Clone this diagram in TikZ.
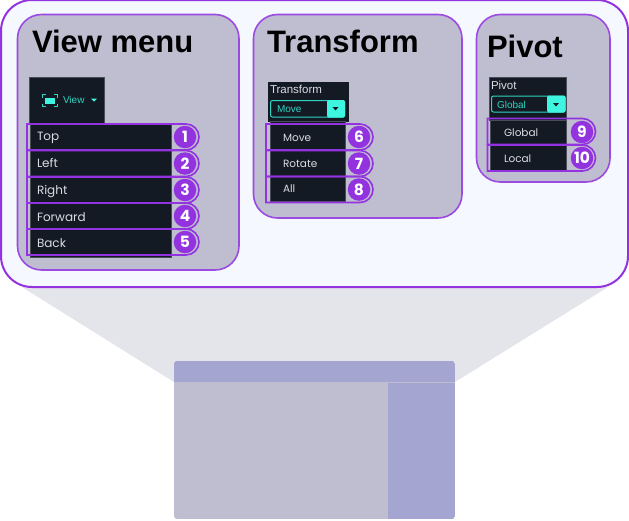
\documentclass[tikz,border=0pt]{standalone}
\usepackage{fontspec}
\setmainfont{Liberation Sans}
\newfontfamily\menufont{Poppins}
\usetikzlibrary{shapes.misc}
\definecolor{ringpurple}{HTML}{9333E0}
\definecolor{panelline}{HTML}{9B4BE2}
\definecolor{panelgrey}{HTML}{BFBDD0}
\definecolor{outerblue}{HTML}{F5F8FF}
\definecolor{conegrey}{HTML}{E4E5EA}
\definecolor{dockblue}{HTML}{A5A5D2}
\definecolor{menudark}{HTML}{141A24}
\definecolor{menuedge}{HTML}{4A4D57}
\definecolor{menutext}{HTML}{DADCE2}
\definecolor{tealtext}{HTML}{2FD4C0}
\definecolor{tealfill}{HTML}{3EF5E0}
\begin{document}
\begin{tikzpicture}[x=1pt, y=-1pt, inner sep=0pt, outer sep=0pt,
    panel/.style={draw=panelline, line width=1.6pt, fill=panelgrey, rounded corners=24pt},
    darkbox/.style={fill=menudark, draw=menuedge, line width=0.6pt},
    heading/.style={anchor=base west, font=\bfseries\fontsize{31}{31}\selectfont, text=black},
    item/.style={anchor=base west, font=\menufont\fontsize{12}{14}\selectfont, text=menutext},
    smallitem/.style={item, font=\menufont\fontsize{10.5}{12}\selectfont},
    caption/.style={anchor=west, font=\fontsize{11.5}{13}\selectfont, text=menutext},
    teal/.style={anchor=west, font=\fontsize{10}{11}\selectfont, text=tealtext},
    ring/.style={draw=ringpurple, line width=1.6pt, rounded rectangle, rounded rectangle west arc=none, minimum height=26pt},
    badge/.style={circle, fill=ringpurple, text=white, minimum size=22.5pt, font=\menufont\bfseries\fontsize{15.5}{15.5}\selectfont}]
    \useasboundingbox (0,0) rectangle (629,520);
    \fill[white] (0,0) rectangle (629,520);

    % cone and small layout
    \fill[conegrey] (22,287) -- (608,287) -- (455,382) -- (174,382) -- cycle;
    \begin{scope}
        \clip[rounded corners=3pt] (174,361) rectangle (455,519);
        \fill[panelgrey] (174,361) rectangle (455,519);
        \fill[dockblue] (174,361) rectangle (455,381.5);
        \fill[dockblue] (388,383) rectangle (455,519);
    \end{scope}

    % outer frame and panels
    \draw[draw=ringpurple, line width=2pt, fill=outerblue, rounded corners=31pt] (1,0) rectangle (628,287);
    \draw[panel] (17.5,14.5) rectangle (239,270);
    \draw[panel] (253.5,14.5) rectangle (462,218);
    \draw[panel] (476.5,14.5) rectangle (610,182);

    \node[heading](view_title) at (32,52) {View menu};
    \node[heading](transform_title) at (267,52) {Transform};
    \node[heading](pivot_title) at (487,57) {Pivot};

    % view menu
    \draw[darkbox] (29.5,77.5) rectangle (104,123);
    \draw[darkbox] (30,123) rectangle (171,257);
    \fill[tealfill] (45,98) rectangle (55,103.5);
    \draw[tealtext, line width=1pt] (42,97.5) |- (45.5,94.5) (53.5,94.5) -| (57,97.5) (57,103.5) |- (53.5,106.5) (45.5,106.5) -| (42,103.5);
    \node[teal](view_label) at (63,100) {View};
    \fill[tealfill] (91,98.5) -- (97,98.5) -- (94,101.5) -- cycle;
    \node[ring, minimum width=172pt](row_top) at (113,137) {};
    \node[ring, minimum width=172pt](row_left) at (113,163.5) {};
    \node[ring, minimum width=172pt](row_right) at (113,190) {};
    \node[ring, minimum width=172pt](row_forward) at (113,216) {};
    \node[ring, minimum width=172pt](row_back) at (113,242) {};
    \node[item](top) at (37,140.5) {Top};
    \node[item](left) at (37,167.5) {Left};
    \node[item](right) at (37,194) {Right};
    \node[item](forward) at (37,221) {Forward};
    \node[item](back) at (37,247.5) {Back};
    \node[badge](n1) at (185,137) {1};
    \node[badge](n2) at (185,163.5) {2};
    \node[badge](n3) at (185,190) {3};
    \node[badge](n4) at (185,216) {4};
    \node[badge](n5) at (185,242) {5};

    % transform menu
    \draw[darkbox, draw=menudark] (268,82) rectangle (348,121);
    \draw[darkbox] (270,121) rectangle (345,201);
    \node[caption](transform_label) at (270,89.5) {Transform};
    \draw[draw=tealtext, line width=1pt, fill=menudark, rounded corners=2pt] (270.5,100.5) rectangle (344.5,117);
    \fill[tealfill, rounded corners=1.5pt] (327,100) rectangle (345,117.5);
    \fill[menudark] (332.5,107) -- (338.5,107) -- (335.5,110.5) -- cycle;
    \node[teal](move_value) at (277,109) {Move};
    \node[ring, minimum width=107pt](row_move) at (319.5,137) {};
    \node[ring, minimum width=107pt](row_rotate) at (319.5,163.5) {};
    \node[ring, minimum width=107pt](row_all) at (319.5,189.5) {};
    \node[smallitem](move) at (283,141) {Move};
    \node[smallitem](rotate) at (283,167) {Rotate};
    \node[smallitem](all) at (283,192.5) {All};
    \node[badge](n6) at (359,137) {6};
    \node[badge](n7) at (359,163.5) {7};
    \node[badge](n8) at (359,189.5) {8};

    % pivot menu
    \draw[darkbox] (489,77.5) rectangle (566,120);
    \draw[darkbox] (490,120) rectangle (566,171);
    \node[caption](pivot_label) at (491,85) {Pivot};
    \draw[draw=tealtext, line width=1pt, fill=menudark, rounded corners=2pt] (491.5,96) rectangle (565,112);
    \fill[tealfill, rounded corners=1.5pt] (547,95.5) rectangle (565.5,112.5);
    \fill[menudark] (553,103) -- (559,103) -- (556,106.5) -- cycle;
    \node[teal](global_value) at (497,105) {Global};
    \node[ring, minimum width=108pt](row_global) at (541.5,131.5) {};
    \node[ring, minimum width=108pt](row_local) at (541.5,158) {};
    \node[smallitem](global) at (504,136) {Global};
    \node[smallitem](local) at (504,162) {Local};
    \node[badge](n9) at (582,132) {9};
    \node[badge](n10) at (582,158) {10};
\end{tikzpicture}
\end{document}
